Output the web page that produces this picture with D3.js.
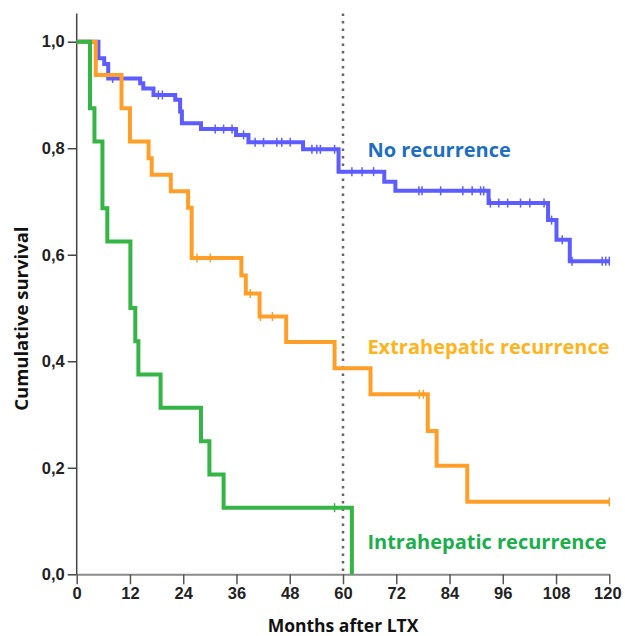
<!DOCTYPE html>
<html>
<head>
<meta charset="utf-8">
<script src="https://cdn.jsdelivr.net/npm/d3@7"></script>
<style>
  body { margin: 0; background: #fff; }
  .tick text { font-family: "Liberation Sans", Arial, sans-serif; font-weight: bold; font-size: 16.5px; fill: #222; }
  .title { font-family: "Open Sans", sans-serif; font-weight: bold; fill: #111; }
  .label { font-family: "Open Sans", sans-serif; font-weight: bold; font-size: 20px; }
</style>
</head>
<body>
<svg id="chart" width="625" height="636"></svg>
<script>
// Kaplan-Meier steps: [month, survival after the event]
const noRecurrence = [
  [4.9,0.969],[6.2,0.958],[7.1,0.931],[14.3,0.922],[15.0,0.912],[17.3,0.900],
  [22.2,0.891],[23.3,0.869],[23.7,0.847],[28.0,0.836],[35.9,0.825],[38.7,0.811],
  [51.0,0.798],[59.0,0.756],[69.3,0.737],[71.8,0.720],[92.8,0.697],[106.2,0.665],
  [108.1,0.628],[111.1,0.588]
];
const noRecurrenceCensored = [8.1,18.4,19.3,31.2,33.1,35.0,37.6,40.2,42.1,45.1,46.2,48.1,
  53.0,54.1,54.9,58.1,62.0,64.3,66.9,77.1,77.8,82.0,87.0,89.1,91.0,91.7,93.2,95.1,97.1,
  100.0,102.1,105.3,107.0,109.4,111.6,118.4,119.2,120];
const noRecurrenceEnd = 120;

const extrahepatic = [
  [4.3,0.9375],[10.1,0.875],[12.0,0.8125],[16.2,0.781],[16.9,0.750],[21.2,0.719],
  [25.1,0.688],[25.9,0.594],[37.1,0.561],[38.1,0.527],[41.2,0.484],[47.2,0.436],
  [58.1,0.387],[66.2,0.338],[79.1,0.269],[81.1,0.204],[88.0,0.136]
];
const extrahepaticCensored = [27.1,30.1,39.1,41.4,44.1,77.2,78.1,120];
const extrahepaticEnd = 120;

const intrahepatic = [
  [3.0,0.875],[4.0,0.8125],[5.8,0.6875],[6.9,0.625],[12.1,0.5],[13.2,0.4375],
  [13.9,0.375],[18.9,0.3125],[28.0,0.25],[29.9,0.1875],[33.1,0.125],[62.0,0.0]
];
const intrahepaticCensored = [58.1];
const intrahepaticEnd = 62.0;

const xTicks = [0,12,24,36,48,60,72,84,96,108,120];
const yTicks = [0,0.2,0.4,0.6,0.8,1.0];
const cutoffMonth = 60;

const series = [
  {name:"No recurrence", steps:noRecurrence, censored:noRecurrenceCensored, end:noRecurrenceEnd,
   color:"#5c5cff", text:"#1c6fc2", labelAt:[65.5,0.7835]},
  {name:"Extrahepatic recurrence", steps:extrahepatic, censored:extrahepaticCensored, end:extrahepaticEnd,
   color:"#ff9f2a", text:"#ffb31c", labelAt:[65.5,0.4136]},
  {name:"Intrahepatic recurrence", steps:intrahepatic, censored:intrahepaticCensored, end:intrahepaticEnd,
   color:"#35b545", text:"#1aae4c", labelAt:[65.5,0.0476]}
];

const svg = d3.select("#chart");
const x = d3.scaleLinear().domain([0,120]).range([76.7,609.3]);
const y = d3.scaleLinear().domain([0,1]).range([574.3,41.7]);
const comma = d3.formatLocale({decimal:",", thousands:".", grouping:[3], currency:["",""]}).format(".1f");

// axes
const xAxis = svg.append("g").attr("transform",`translate(0,${y(0)})`)
  .call(d3.axisBottom(x).tickValues(xTicks).tickSize(10).tickSizeOuter(0).tickPadding(3));
xAxis.select(".domain").attr("stroke","#8a8a8a").attr("stroke-width",2);
xAxis.selectAll(".tick line").attr("stroke","#555").attr("stroke-width",1.5);
// keep the last label inside the frame
xAxis.selectAll(".tick text").filter(d=>d===120).attr("dx",-2);

const yAxis = svg.append("g").attr("transform",`translate(${x(0)},0)`)
  .call(d3.axisLeft(y).tickValues(yTicks).tickFormat(comma).tickSize(9).tickSizeOuter(0).tickPadding(3));
yAxis.select(".domain").remove();
yAxis.append("line").attr("y1",y(0)).attr("y2",y(1.053)).attr("stroke","#444").attr("stroke-width",1.5);
yAxis.selectAll(".tick line").attr("stroke","#444").attr("stroke-width",1.5);

// 60-month reference line
svg.append("line")
  .attr("x1",x(cutoffMonth)).attr("x2",x(cutoffMonth))
  .attr("y1",y(1.053)).attr("y2",y(0))
  .attr("stroke","#666").attr("stroke-width",2.5).attr("stroke-dasharray","2.5,5");

const line = d3.line().x(d=>x(d[0])).y(d=>y(d[1])).curve(d3.curveStepAfter);
const survAt = (steps,t)=>{ let s = 1; steps.forEach(d=>{ if(d[0]<=t) s = d[1]; }); return s; };

series.forEach(s=>{
  const pts = [[0,1]].concat(s.steps);
  const last = pts[pts.length-1];
  if(last[0] < s.end) pts.push([s.end,last[1]]);
  svg.append("path").datum(pts)
    .attr("d",line).attr("fill","none")
    .attr("stroke",s.color).attr("stroke-width",4);
  svg.append("g").selectAll("line").data(s.censored).join("line")
    .attr("x1",d=>x(d)).attr("x2",d=>x(d))
    .attr("y1",d=>y(survAt(s.steps,d))-4.5).attr("y2",d=>y(survAt(s.steps,d))+4.5)
    .attr("stroke",s.color).attr("stroke-width",1.5);
  svg.append("text").attr("class","label")
    .attr("x",x(s.labelAt[0])).attr("y",y(s.labelAt[1]))
    .attr("fill",s.text).text(s.name);
});

// axis titles
svg.append("text").attr("class","title").attr("font-size",17.5)
  .attr("text-anchor","middle").attr("x",x(60)).attr("y",632)
  .text("Months after LTX");
svg.append("text").attr("class","title").attr("font-size",18.5)
  .attr("text-anchor","middle").attr("transform",`translate(28,${y(0.48)}) rotate(-90)`)
  .text("Cumulative survival");
</script>
</body>
</html>
